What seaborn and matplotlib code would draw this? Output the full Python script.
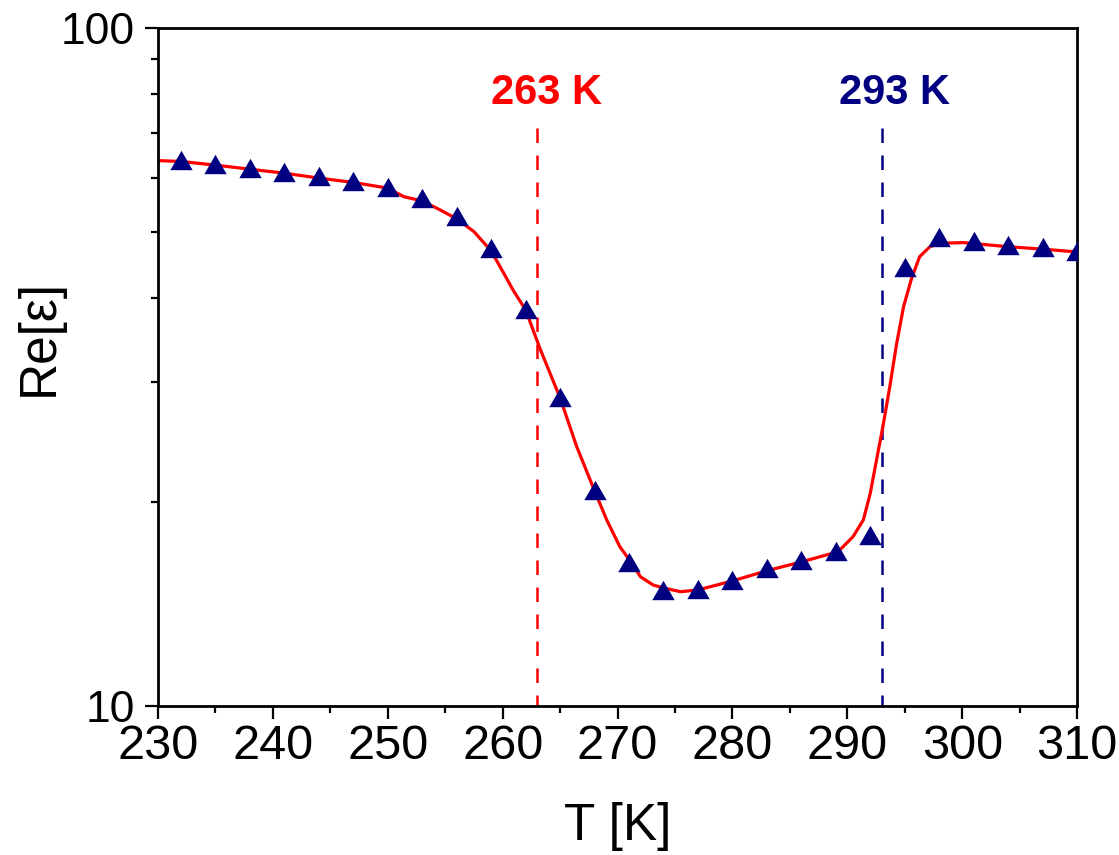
import matplotlib
matplotlib.use("Agg")
import matplotlib.pyplot as plt
from matplotlib.path import Path
from matplotlib.ticker import FixedLocator, MultipleLocator, LogLocator, NullFormatter
import seaborn as sns

# Measured permittivity (real part) versus temperature
meas_T = [232, 235, 238, 241, 244, 247, 250, 253, 256, 259, 262, 265, 268, 271,
          274, 277, 280, 283, 286, 289, 292, 295, 298, 301, 304, 307, 310]
meas_eps = [63.9, 63.1, 62.2, 61.4, 60.4, 59.5, 58.3, 56.2, 52.8, 47.3, 38.5, 28.6,
            20.8, 16.3, 14.84, 14.87, 15.36, 15.96, 16.44, 16.91, 17.89, 44.4, 49.1,
            48.5, 47.9, 47.6, 46.9]

# Fitted curve through the measurements
fit_T = [230, 232, 235, 238, 241, 244, 247, 250, 251.4, 253, 254.4, 256, 257.5, 259,
         260.1, 260.9, 262, 263.3, 265, 266.45, 268, 269.06, 270.2, 271.0, 272.0,
         273.1, 274, 275.5, 277, 280, 283, 286, 289, 289.4, 290.5, 291.4, 292.0,
         292.6, 293.1, 293.7, 294.3, 294.9, 295.6, 296.3, 297.2, 298.1, 300.1,
         303.9, 306.8, 310]
fit_eps = [63.73, 63.55, 62.76, 61.90, 61.07, 60.06, 59.18, 58.05, 56.38, 55.57, 54.08,
           52.3, 50.08, 46.9, 43.47, 41.08, 38.38, 33.5, 28.47, 24.12, 20.77, 18.81,
           17.18, 16.45, 15.51, 15.08, 14.93, 14.74, 14.83, 15.29, 15.83, 16.31, 16.85,
           17.02, 17.77, 18.81, 20.59, 23.32, 25.82, 29.57, 34.26, 38.81, 42.74, 45.99,
           47.59, 48.14, 48.24, 47.59, 47.21, 46.73]

# Transition temperatures
trans_T = [263, 293]
trans_labels = ["263 K", "293 K"]
trans_colors = ["#FF0000", "#000080"]

x_ticks = [230, 240, 250, 260, 270, 280, 290, 300, 310]
y_ticks = [10, 100]
y_tick_labels = ["10", "100"]

sns.set_theme(style="ticks")
plt.rcParams["font.family"] = ["Liberation Sans", "DejaVu Sans"]
for key in ["text.color", "axes.labelcolor", "xtick.color", "ytick.color",
            "axes.edgecolor"]:
    plt.rcParams[key] = "black"

fig = plt.figure(figsize=(11.19, 8.55), dpi=100)
ax = fig.add_axes([0.1412, 0.1743, 0.8213, 0.7930])

# Equilateral up-triangle marker
tri = Path([(0, 0.866), (-1, -0.866), (1, -0.866), (0, 0.866)],
           [Path.MOVETO, Path.LINETO, Path.LINETO, Path.CLOSEPOLY])

sns.lineplot(x=fit_T, y=fit_eps, color="#FF0000", linewidth=2.3, ax=ax,
             estimator=None, sort=False, zorder=2)
sns.scatterplot(x=meas_T, y=meas_eps, marker=tri, s=260, color="#000080",
                linewidth=0, ax=ax, zorder=3)

ax.set_yscale("log")
ax.set_xlim(230, 310)
ax.set_ylim(10, 100)

# Dashed markers of the transitions with their labels
for t, lab, c, dx in zip(trans_T, trans_labels, trans_colors, [0.8, 1.1]):
    ax.plot([t, t], [71.2, 10], color=c, linewidth=1.8, dashes=(5.8, 5.0), zorder=1)
    ax.text(t + dx, 80.2, lab, color=c, fontsize=30, fontweight="bold",
            ha="center", va="center")

ax.set_xticks(x_ticks)
ax.xaxis.set_minor_locator(MultipleLocator(5))
ax.yaxis.set_major_locator(FixedLocator(y_ticks))
ax.set_yticklabels(y_tick_labels)
ax.yaxis.set_minor_locator(LogLocator(base=10, subs=[2, 3, 4, 5, 6, 7, 8, 9]))
ax.yaxis.set_minor_formatter(NullFormatter())

ax.tick_params(which="major", direction="out", length=9.4, width=1.6, color="black",
               labelcolor="black")
ax.tick_params(which="minor", direction="out", length=5.0, width=1.6, color="black")
ax.tick_params(axis="x", which="major", labelsize=35, pad=3.6)
ax.tick_params(axis="y", which="major", labelsize=32, pad=7)
ax.tick_params(top=False, right=False, which="both")

for s in ax.spines.values():
    s.set_visible(True)
    s.set_color("black")
    s.set_linewidth(2.0)

ax.set_xlabel("T [K]", fontsize=37, color="black")
ax.set_ylabel("Re[ε]", fontsize=37, color="black")
ax.xaxis.set_label_coords(0.5, -0.1416)
ax.yaxis.set_label_coords(-0.1023, 0.544)

ax.grid(False)
fig.savefig("out.png", dpi=100, facecolor="white")
